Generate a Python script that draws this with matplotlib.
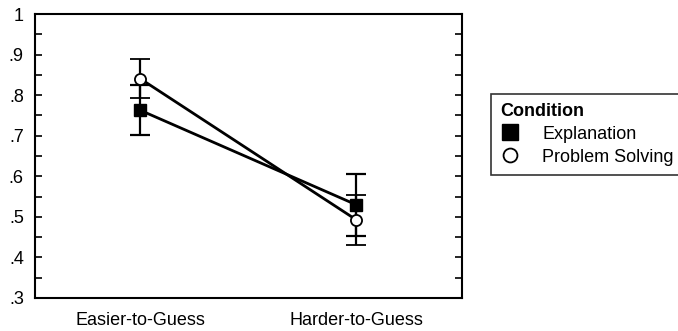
import matplotlib
matplotlib.use("Agg")
import matplotlib.pyplot as plt
from matplotlib.lines import Line2D
from matplotlib.ticker import MultipleLocator, FixedFormatter, FixedLocator

plt.rcParams["font.family"] = ["Liberation Sans", "DejaVu Sans"]

categories = ["Easier-to-Guess", "Harder-to-Guess"]
explanation = [0.763, 0.530]
explanation_err = [0.061, 0.076]
problem_solving = [0.841, 0.493]
problem_solving_err = [0.048, 0.062]
yticks = [0.3, 0.4, 0.5, 0.6, 0.7, 0.8, 0.9, 1.0]
ytick_labels = [".3", ".4", ".5", ".6", ".7", ".8", ".9", "1"]

fig = plt.figure(figsize=(6.78, 3.31), dpi=100)
ax = fig.add_axes([0.0516, 0.0997, 0.6298, 0.858])

xpos = list(range(len(categories)))
ax.errorbar(xpos, explanation, yerr=explanation_err, color="black", lw=2,
            marker="s", ms=8, mfc="black", mec="black", capsize=7, capthick=1.6,
            elinewidth=1.6, zorder=3)
ax.errorbar(xpos, problem_solving, yerr=problem_solving_err, color="black", lw=2,
            marker="o", ms=8, mfc="white", mec="black", mew=1.3, capsize=7,
            capthick=1.6, elinewidth=1.6, zorder=4)

ax.set_xlim(-0.486, 1.49)
ax.set_ylim(0.3, 1.0)
ax.set_xticks(xpos)
ax.set_xticklabels(categories, fontsize=13)
ax.tick_params(axis="x", length=0, pad=10)
ax.yaxis.set_major_locator(FixedLocator(yticks))
ax.yaxis.set_major_formatter(FixedFormatter(ytick_labels))
ax.yaxis.set_minor_locator(MultipleLocator(0.05))
ax.tick_params(axis="y", which="both", direction="in", length=5, width=1.2,
               left=True, right=True, labelsize=13, pad=8)
for s in ax.spines.values():
    s.set_linewidth(1.5)

handles = [
    Line2D([], [], ls="none", marker="s", ms=11, mfc="black", mec="black"),
    Line2D([], [], ls="none", marker="o", ms=10, mfc="white", mec="black", mew=1.3),
]
leg = fig.legend(handles, ["Explanation", "Problem Solving"], title="Condition",
                 loc="upper left", bbox_to_anchor=(0.724, 0.716), fontsize=13,
                 title_fontsize=13, frameon=True, fancybox=False,
                 edgecolor="black", borderpad=0.5, handletextpad=1.25,
                 handlelength=1.1, labelspacing=0.32, borderaxespad=0)
leg.get_title().set_fontweight("bold")
leg._legend_box.align = "left"
leg.get_frame().set_linewidth(1.2)

fig.savefig("out.png", dpi=100)
